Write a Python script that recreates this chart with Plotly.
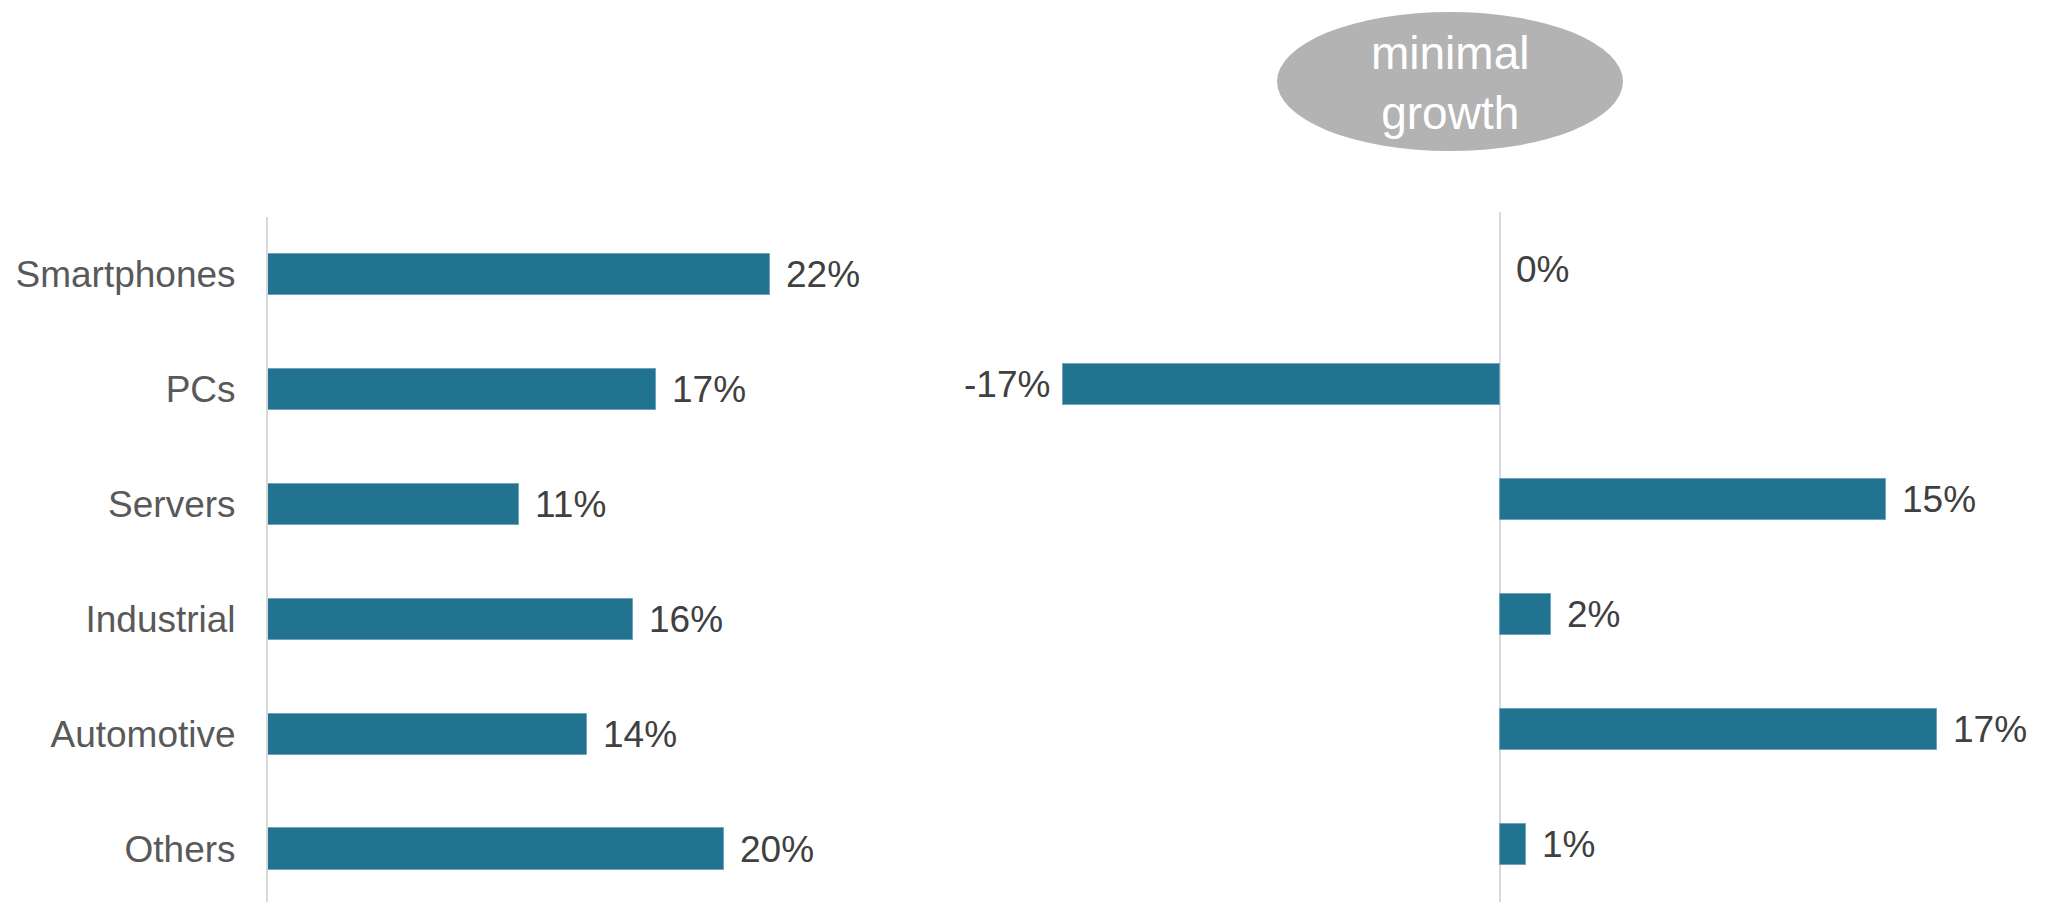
import plotly.graph_objects as go

# Segment data
categories = ["Smartphones", "PCs", "Servers", "Industrial", "Automotive", "Others"]
share_pct = [22, 17, 11, 16, 14, 20]
growth_pct = [0, -17, 15, 2, 17, 1]
bubble_text = "minimal<br>growth"

W, H = 2051, 902
BAR = "#217390"
FONT = "Liberation Sans, Arial, sans-serif"


def edge_widths(vals):
    # thin light outline on bars, none on zero-length bars
    return [0 if v == 0 else 1 for v in vals]


fig = go.Figure()

fig.add_trace(go.Bar(
    x=share_pct, y=categories, orientation="h", width=0.36,
    marker=dict(color=BAR, line=dict(color="#6ea3bb", width=edge_widths(share_pct))),
    xaxis="x", yaxis="y", showlegend=False, hoverinfo="skip",
))
fig.add_trace(go.Bar(
    x=growth_pct, y=categories, orientation="h", width=0.36,
    marker=dict(color=BAR, line=dict(color="#6ea3bb", width=edge_widths(growth_pct))),
    xaxis="x2", yaxis="y2", showlegend=False, hoverinfo="skip",
))

# value labels next to each bar end
annotations = []
for xa, ya, vals in (("x", "y", share_pct), ("x2", "y2", growth_pct)):
    for cat, v in zip(categories, vals):
        neg = v < 0
        annotations.append(dict(
            x=v, y=cat, xref=xa, yref=ya, text=f"{v}%", showarrow=False,
            xanchor="right" if neg else "left", yanchor="middle",
            xshift=-11 if neg else 14,
            font=dict(family=FONT, size=37, color="#404040"),
        ))

# callout bubble over the growth panel
annotations.append(dict(
    x=1450 / W, y=1 - 83 / H, xref="paper", yref="paper", text=bubble_text,
    showarrow=False, xanchor="center", yanchor="middle",
    font=dict(family=FONT, size=46, color="white"),
))

left_x0, left_x1 = 268, 900
right_x0, right_zero = 960, 1500
px_left, px_right = 22.8, 25.7

fig.update_layout(
    width=W, height=H,
    margin=dict(l=0, r=0, t=0, b=0),
    paper_bgcolor="white", plot_bgcolor="white",
    bargap=0,
    xaxis=dict(
        domain=[left_x0 / W, left_x1 / W],
        range=[0, (left_x1 - left_x0) / px_left],
        showgrid=False, zeroline=False, showticklabels=False, showline=False,
    ),
    yaxis=dict(
        domain=[0, (H - 217) / H], range=[5.46, -0.5],
        showgrid=False, zeroline=False, showline=True,
        linecolor="#d9d9d9", linewidth=2, ticks="",
        ticklabelstandoff=23,
        tickfont=dict(family=FONT, size=37, color="#595959"),
    ),
    xaxis2=dict(
        domain=[right_x0 / W, 1],
        range=[(right_x0 - right_zero) / px_right, (W - right_zero) / px_right],
        showgrid=False, zeroline=True, zerolinecolor="#d9d9d9", zerolinewidth=2,
        showticklabels=False, showline=False,
    ),
    yaxis2=dict(
        domain=[0, (H - 212) / H], range=[5.5, -0.5], anchor="x2",
        showgrid=False, zeroline=False, showline=False, showticklabels=False,
    ),
    shapes=[dict(
        type="circle", xref="paper", yref="paper",
        x0=1277 / W, x1=1623 / W, y0=1 - 151 / H, y1=1 - 12 / H,
        fillcolor="#b3b3b3", line=dict(width=0), layer="below",
    )],
    annotations=annotations,
)

fig.write_html("out.html")
